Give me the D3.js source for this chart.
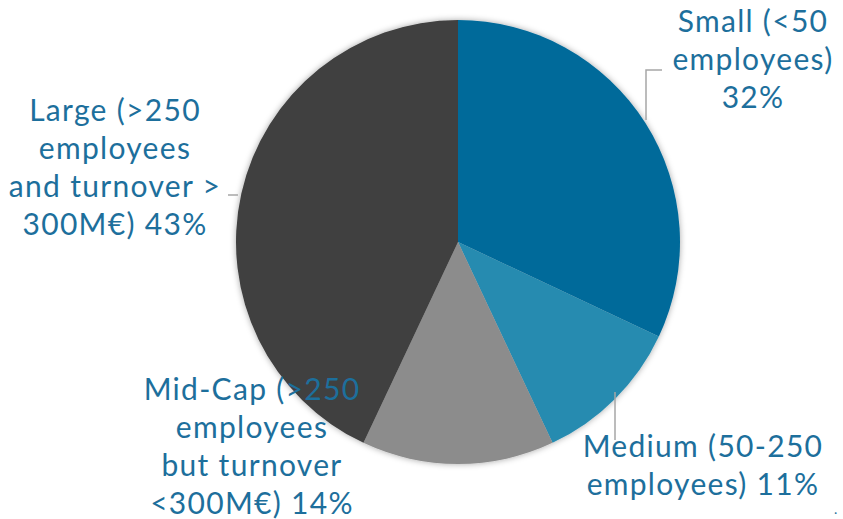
<!DOCTYPE html>
<html>
<head>
<meta charset="utf-8">
<script src="https://cdn.jsdelivr.net/npm/d3@7/dist/d3.min.js"></script>
<style>
  html, body { margin: 0; padding: 0; background: #fff; }
  svg { display: block; }
  .lbl { font-family: Lato, "Open Sans", sans-serif; font-size: 30px; letter-spacing: 1.3px; fill: #1d6f9c; }
</style>
</head>
<body>
<svg id="chart" width="843" height="519"></svg>
<script>
// Company size breakdown
const categories = ["Small", "Medium", "Mid-Cap", "Large"];
const shares = [32, 11, 14, 43];
const sliceColors = ["#036a9a", "#268bb0", "#8c8c8c", "#404040"];
const labelLines = [
  ["Small (<50", "employees)", "32%"],
  ["Medium (50-250", "employees) 11%"],
  ["Mid-Cap (>250", "employees", "but turnover", "<300M€) 14%"],
  ["Large (>250", "employees", "and turnover >", "300M€) 43%"]
];

const W = 843, H = 519;
const cx = 458, cy = 242, r = 222;
const svg = d3.select("#chart");

const defs = svg.append("defs");
const f = defs.append("filter").attr("id", "glow")
  .attr("x", "-10%").attr("y", "-10%").attr("width", "120%").attr("height", "120%");
f.append("feDropShadow").attr("dx", 0).attr("dy", 0)
  .attr("stdDeviation", 3).attr("flood-color", "#000").attr("flood-opacity", 0.35);

const pie = d3.pie().sort(null).value(d => d)(shares);
const arc = d3.arc().innerRadius(0).outerRadius(r);

const g = svg.append("g").attr("transform", `translate(${cx},${cy})`);
g.append("g").attr("filter", "url(#glow)")
  .selectAll("path").data(pie).join("path")
  .attr("d", arc)
  .attr("fill", (d, i) => sliceColors[i]);

// label positions (centre of text block, first line) and leader lines
const labelPos = [
  { x: 753, y: 21 },
  { x: 703, y: 446 },
  { x: 252, y: 389 },
  { x: 115, y: 110 }
];
const lineH = 38;

const leaders = [
  [[662, 70], [646, 70], [646, 120]],
  [[615, 392], [615, 440]],
  null,
  [[228, 195], [238, 195]]
];
svg.append("g").selectAll("path").data(leaders.filter(d => d)).join("path")
  .attr("d", d => d3.line()(d))
  .attr("fill", "none").attr("stroke", "#a6a6a6").attr("stroke-width", 1.5);

labelLines.forEach((lines, i) => {
  const t = svg.append("text").attr("class", "lbl").attr("text-anchor", "middle");
  lines.forEach((s, j) => {
    t.append("tspan").attr("x", labelPos[i].x).attr("y", labelPos[i].y + j * lineH)
      .attr("dy", "0.35em").text(s);
  });
});

svg.append("text").attr("class", "lbl").attr("x", 834).attr("y", 514)
  .style("font-size", "14px").style("letter-spacing", "0px").text(".");
</script>
</body>
</html>
